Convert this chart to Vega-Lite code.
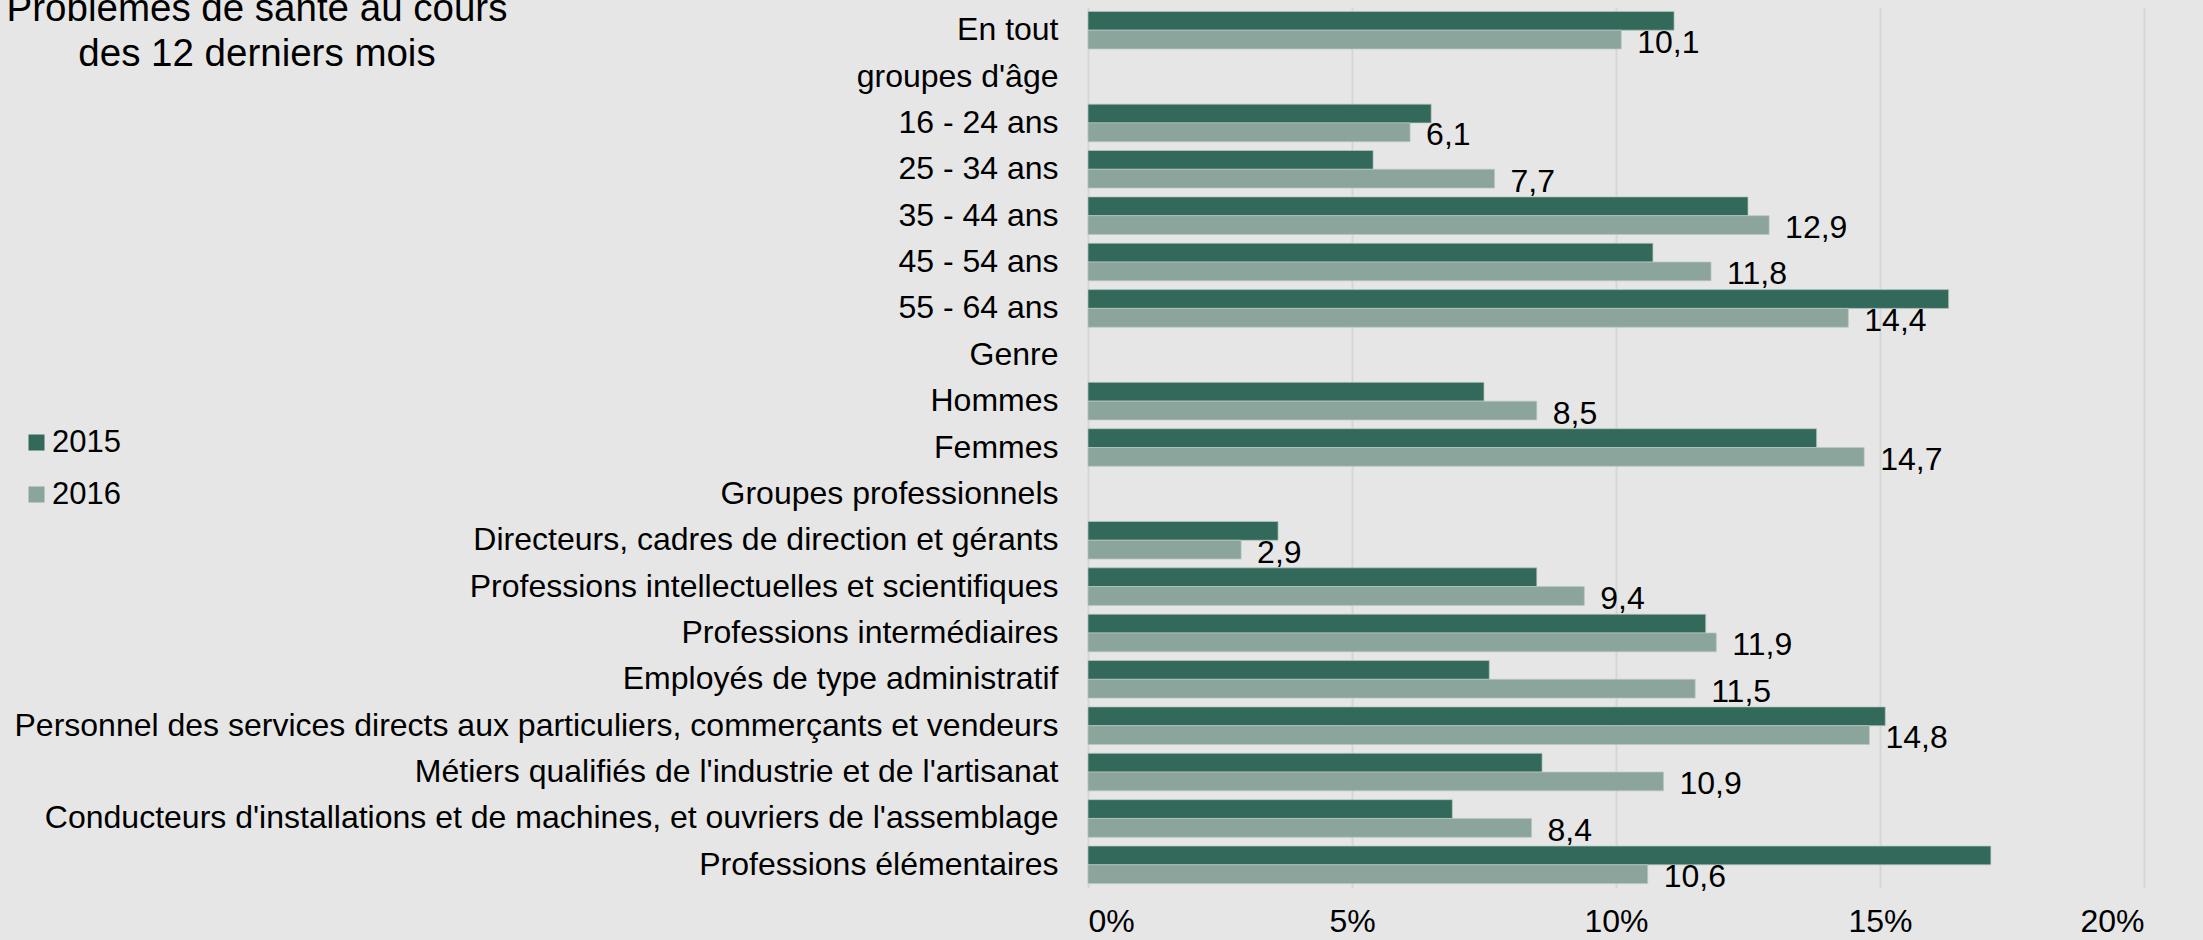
{
  "$schema": "https://vega.github.io/schema/vega-lite/v6.json",
  "autosize": {"type": "none"},
  "padding": {"left": 1088, "top": 7, "right": 59, "bottom": 52},
  "width": 1056,
  "height": 881,
  "background": "#E6E6E6",
  "title": {
    "text": ["Problèmes de santé au cours", "des 12 derniers mois"],
    "anchor": "start",
    "frame": "group",
    "align": "center",
    "baseline": "alphabetic",
    "dx": -831,
    "dy": 101,
    "font": "Liberation Sans",
    "fontSize": 38.5,
    "fontWeight": "normal",
    "color": "#000000",
    "lineHeight": 45
  },
  "data": {
    "values": [
      {"cat": "En tout", "year": "2015", "value": 11.1},
      {"cat": "En tout", "year": "2016", "value": 10.1},
      {"cat": "16 - 24 ans", "year": "2015", "value": 6.5},
      {"cat": "16 - 24 ans", "year": "2016", "value": 6.1},
      {"cat": "25 - 34 ans", "year": "2015", "value": 5.4},
      {"cat": "25 - 34 ans", "year": "2016", "value": 7.7},
      {"cat": "35 - 44 ans", "year": "2015", "value": 12.5},
      {"cat": "35 - 44 ans", "year": "2016", "value": 12.9},
      {"cat": "45 - 54 ans", "year": "2015", "value": 10.7},
      {"cat": "45 - 54 ans", "year": "2016", "value": 11.8},
      {"cat": "55 - 64 ans", "year": "2015", "value": 16.3},
      {"cat": "55 - 64 ans", "year": "2016", "value": 14.4},
      {"cat": "Hommes", "year": "2015", "value": 7.5},
      {"cat": "Hommes", "year": "2016", "value": 8.5},
      {"cat": "Femmes", "year": "2015", "value": 13.8},
      {"cat": "Femmes", "year": "2016", "value": 14.7},
      {"cat": "Directeurs, cadres de direction et gérants", "year": "2015", "value": 3.6},
      {"cat": "Directeurs, cadres de direction et gérants", "year": "2016", "value": 2.9},
      {"cat": "Professions intellectuelles et scientifiques", "year": "2015", "value": 8.5},
      {"cat": "Professions intellectuelles et scientifiques", "year": "2016", "value": 9.4},
      {"cat": "Professions intermédiaires", "year": "2015", "value": 11.7},
      {"cat": "Professions intermédiaires", "year": "2016", "value": 11.9},
      {"cat": "Employés de type administratif ", "year": "2015", "value": 7.6},
      {"cat": "Employés de type administratif ", "year": "2016", "value": 11.5},
      {"cat": "Personnel des services directs aux particuliers, commerçants et vendeurs", "year": "2015", "value": 15.1},
      {"cat": "Personnel des services directs aux particuliers, commerçants et vendeurs", "year": "2016", "value": 14.8},
      {"cat": "Métiers qualifiés de l'industrie et de l'artisanat", "year": "2015", "value": 8.6},
      {"cat": "Métiers qualifiés de l'industrie et de l'artisanat", "year": "2016", "value": 10.9},
      {"cat": "Conducteurs d'installations et de machines, et ouvriers de l'assemblage", "year": "2015", "value": 6.9},
      {"cat": "Conducteurs d'installations et de machines, et ouvriers de l'assemblage", "year": "2016", "value": 8.4},
      {"cat": "Professions élémentaires", "year": "2015", "value": 17.1},
      {"cat": "Professions élémentaires", "year": "2016", "value": 10.6}
    ]
  },
  "encoding": {
    "y": {
      "field": "cat",
      "type": "nominal",
      "title": null,
      "scale": {
        "domain": ["En tout", "groupes d'âge", "16 - 24 ans", "25 - 34 ans", "35 - 44 ans", "45 - 54 ans", "55 - 64 ans", "Genre", "Hommes", "Femmes", "Groupes professionnels", "Directeurs, cadres de direction et gérants", "Professions intellectuelles et scientifiques", "Professions intermédiaires", "Employés de type administratif ", "Personnel des services directs aux particuliers, commerçants et vendeurs", "Métiers qualifiés de l'industrie et de l'artisanat", "Conducteurs d'installations et de machines, et ouvriers de l'assemblage", "Professions élémentaires"],
        "paddingInner": 0.19,
        "paddingOuter": 0.095
      },
      "axis": {
        "domain": false,
        "ticks": false,
        "grid": false,
        "labelFont": "Liberation Sans",
        "labelFontSize": 32,
        "labelColor": "#000000",
        "labelPadding": 30,
        "labelLimit": 1200
      }
    },
    "yOffset": {"field": "year", "type": "nominal", "sort": ["2015", "2016"], "scale": {"paddingInner": 0, "paddingOuter": 0}},
    "x": {
      "field": "value",
      "type": "quantitative",
      "title": null,
      "scale": {"domain": [0, 20], "nice": false},
      "axis": {
        "values": [0, 5, 10, 15, 20],
        "labelExpr": "datum.value + '%'",
        "domain": false,
        "ticks": false,
        "grid": true,
        "gridColor": "#D6D6D6",
        "gridWidth": 2,
        "labelFont": "Liberation Sans",
        "labelFontSize": 32,
        "labelColor": "#000000",
        "labelPadding": 18
      }
    }
  },
  "layer": [
    {
      "mark": {"type": "bar", "stroke": "#b9c7c1", "strokeWidth": 1, "strokeOpacity": 0.7},
      "encoding": {
        "color": {
          "field": "year",
          "type": "nominal",
          "scale": {"domain": ["2015", "2016"], "range": ["#32695A", "#8CA59C"]},
          "legend": {
            "title": null,
            "orient": "none",
            "legendX": -1067,
            "legendY": 420,
            "symbolType": "square",
            "symbolSize": 256,
            "symbolStrokeWidth": 0,
            "labelFont": "Liberation Sans",
            "labelFontSize": 31,
            "labelColor": "#000000",
            "labelOffset": 0,
            "rowPadding": 20,
            "padding": 0
          }
        }
      }
    },
    {
      "transform": [{"filter": "datum.year == '2016'"}],
      "mark": {"type": "text", "align": "left", "baseline": "middle", "dx": 16, "dy": 3, "font": "Liberation Sans", "fontSize": 32, "color": "#000000"},
      "encoding": {
        "text": {"field": "value", "type": "quantitative", "format": ".1f"}
      }
    }
  ],
  "config": {
    "view": {"stroke": null},
    "locale": {"number": {"decimal": ",", "thousands": " ", "grouping": [3], "currency": ["", " €"]}}
  }
}
